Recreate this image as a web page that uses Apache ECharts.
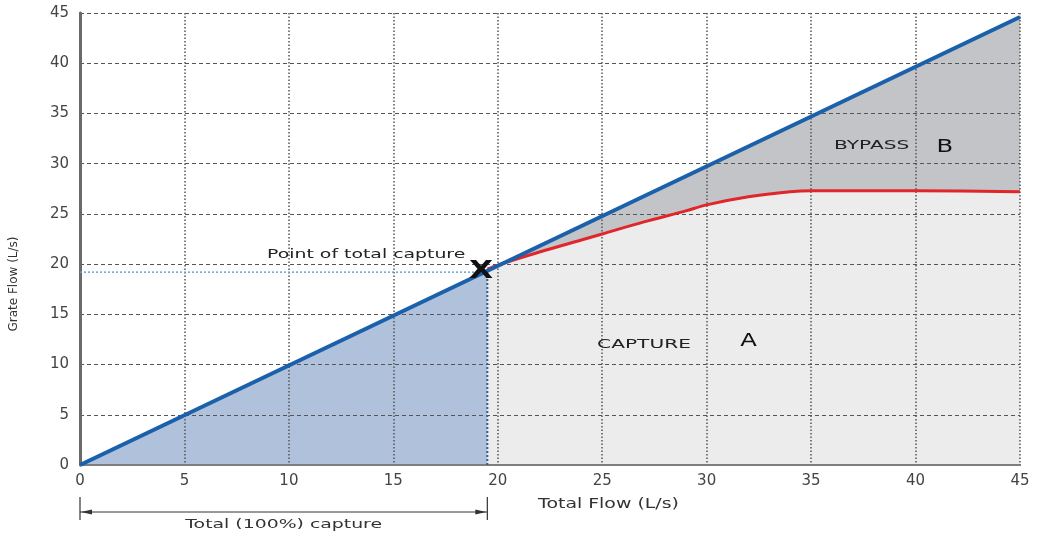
<!DOCTYPE html>
<html><head><meta charset="utf-8">
<script src="https://cdn.jsdelivr.net/npm/echarts@6/dist/echarts.min.js"></script>
<style>html,body{margin:0;padding:0;background:#fff}#c{width:1040px;height:533px}</style>
</head><body><div id="c"></div>
<script>
// ---- data ----
const xMin = 0, xMax = 45, yMin = 0, yMax = 45, tickStep = 5;
const blueLine = [[0, 0], [45, 44.6]];
const capturePoint = [19.5, 19.2];
const blueFill = [[0, 0], [19.5, 19.5]];
const bypassTop = [[19.5, 19.5], [45, 44.6]];
const redCurve = [[19.5, 19.5], [20, 19.9], [22, 21.2], [24, 22.4], [25, 23.0], [27, 24.2], [29, 25.3], [30, 25.9], [32, 26.7], [34, 27.2], [35, 27.3], [40, 27.3], [45, 27.2]];
const annotTexts = ['Point of total capture', 'BYPASS', 'B', 'CAPTURE', 'A', 'X'];
const annotPos = [[13.7, 20.9], [37.9, 31.8], [41.4, 31.6], [27.0, 12.0], [32.0, 12.3], [19.2, 19.3]];
const xTitle = 'Total Flow (L/s)';
const yTitle = 'Grate Flow (L/s)';
const bracketText = 'Total (100%) capture';

// text styling (not data)
const annotStyle = [
  { size: 13, sx: 1.45, weight: 'normal', color: '#222' },
  { size: 13, sx: 1.55, weight: 'normal', color: '#222' },
  { size: 18, sx: 1.35, weight: 'normal', color: '#111' },
  { size: 13, sx: 1.55, weight: 'normal', color: '#222' },
  { size: 18, sx: 1.35, weight: 'normal', color: '#111' },
  { size: 25, sx: 1.25, weight: 'bold', color: '#111' }
];
const font = 'DejaVu Sans';
const chart = echarts.init(document.getElementById('c'));
chart.setOption({
  backgroundColor: '#fff',
  animation: false,
  grid: { left: 80, right: 20, top: 13, bottom: 68 },
  xAxis: [{
    type: 'value', min: xMin, max: xMax, interval: tickStep, z: 3,
    axisLine: { lineStyle: { color: '#5a5a5a', width: 2 } },
    axisTick: { show: false },
    axisLabel: { color: '#444', fontFamily: font, fontSize: 15, margin: 9 },
    splitLine: { show: true, lineStyle: { color: '#555', width: 1.5, type: [1.5, 2] } }
  }, {
    type: 'value', min: xMin, max: xMax, position: 'top', z: 3,
    axisLine: { lineStyle: { color: '#8a8a8a', width: 1.5 } },
    axisTick: { show: false }, axisLabel: { show: false }, splitLine: { show: false }
  }],
  yAxis: [{
    type: 'value', min: yMin, max: yMax, interval: tickStep, z: 3,
    axisLine: { lineStyle: { color: '#5a5a5a', width: 2 } },
    axisTick: { show: false },
    axisLabel: { color: '#444', fontFamily: font, fontSize: 15, margin: 11 },
    splitLine: { show: true, lineStyle: { color: '#555', width: 1.2, type: [4, 3] } },
    name: yTitle, nameLocation: 'middle', nameGap: 60,
    nameTextStyle: { color: '#333', fontFamily: font, fontSize: 12, padding: [0, 90, 0, 0] }
  }, {
    type: 'value', min: yMin, max: yMax, position: 'right', z: 3,
    axisLine: { lineStyle: { color: '#6a6a6a', width: 3 } },
    axisTick: { show: false }, axisLabel: { show: false }, splitLine: { show: false }
  }],
  series: [
    { type: 'line', data: blueFill, symbol: 'none', z: 1, lineStyle: { width: 0 },
      areaStyle: { color: '#b0c1db', opacity: 1 } },
    { type: 'line', data: bypassTop, symbol: 'none', z: 1, lineStyle: { width: 0 },
      areaStyle: { color: '#c3c4c7', opacity: 1 } },
    { type: 'line', data: redCurve, symbol: 'none', z: 1.5, smooth: 0.3, lineStyle: { width: 0 },
      areaStyle: { color: '#ececec', opacity: 1 } },
    { type: 'line', data: redCurve, symbol: 'none', z: 5, smooth: 0.3,
      lineStyle: { color: '#e1262b', width: 3 } },
    { type: 'line', data: blueLine, symbol: 'none', z: 6,
      lineStyle: { color: '#1b60ab', width: 4 } },
    // dotted guides to the point of total capture
    { type: 'line', data: [[0, capturePoint[1]], capturePoint], symbol: 'none', z: 4,
      lineStyle: { color: '#6f9fd2', width: 1.5, type: [2, 2] } },
    { type: 'line', data: [[capturePoint[0], 0], capturePoint], symbol: 'none', z: 4,
      lineStyle: { color: '#2f5f8f', width: 2, type: [2, 2] } },
    // annotation texts (horizontally widened like the reference lettering)
    { type: 'custom', clip: false, z: 7, data: annotPos,
      renderItem: function (params, api) {
        const i = params.dataIndex;
        const p = api.coord([api.value(0), api.value(1)]);
        const s = annotStyle[i];
        return { type: 'text', x: p[0], y: p[1], scaleX: s.sx,
          style: { text: annotTexts[i], align: 'center', verticalAlign: 'middle', fill: s.color,
            font: s.weight + ' ' + s.size + 'px "DejaVu Sans"' } };
      } },
    // bracket under the axis + axis title
    { type: 'custom', clip: false, z: 7, data: [[0, 0]],
      renderItem: function (params, api) {
        const p0 = api.coord([0, 0]);
        const p1 = api.coord([capturePoint[0], 0]);
        const pt = api.coord([25.3, 0]);
        const yl = p0[1] + 47;
        const c = '#333';
        return { type: 'group', children: [
          { type: 'line', shape: { x1: p0[0], y1: p0[1] + 32, x2: p0[0], y2: p0[1] + 55 }, style: { stroke: c, lineWidth: 1.2 } },
          { type: 'line', shape: { x1: p1[0], y1: p0[1] + 32, x2: p1[0], y2: p0[1] + 55 }, style: { stroke: c, lineWidth: 1.2 } },
          { type: 'line', shape: { x1: p0[0], y1: yl, x2: p1[0], y2: yl }, style: { stroke: c, lineWidth: 1 } },
          { type: 'polygon', shape: { points: [[p0[0] + 1, yl], [p0[0] + 12, yl - 2.5], [p0[0] + 12, yl + 2.5]] }, style: { fill: c } },
          { type: 'polygon', shape: { points: [[p1[0] - 1, yl], [p1[0] - 12, yl - 2.5], [p1[0] - 12, yl + 2.5]] }, style: { fill: c } },
          { type: 'text', x: (p0[0] + p1[0]) / 2, y: p0[1] + 60, scaleX: 1.45,
            style: { text: bracketText, align: 'center', verticalAlign: 'middle', fill: '#333', font: '13px "DejaVu Sans"' } },
          { type: 'text', x: pt[0], y: p0[1] + 39, scaleX: 1.35,
            style: { text: xTitle, align: 'center', verticalAlign: 'middle', fill: '#333', font: '14px "DejaVu Sans"' } }
        ] };
      } }
  ]
});
</script></body></html>
